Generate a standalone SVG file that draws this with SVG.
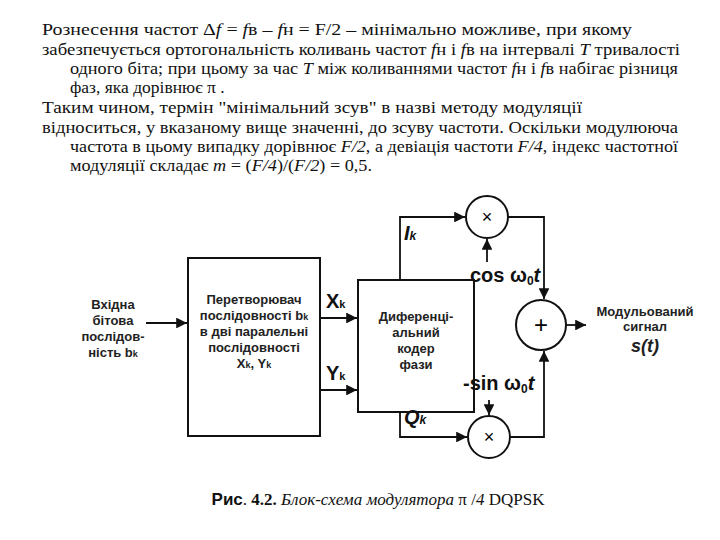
<svg xmlns="http://www.w3.org/2000/svg" width="720" height="540" viewBox="0 0 720 540">
<defs>
<marker id="ar" viewBox="0 0 10 10" refX="10" refY="5" markerWidth="6" markerHeight="6" orient="auto"><path d="M0,0L10,5L0,10z" fill="#111"/></marker>
<style>
.s{font-family:'Liberation Sans',sans-serif;font-size:13px;font-weight:bold;fill:#222}
.l{font-family:'Liberation Sans',sans-serif;font-size:20px;font-weight:bold;fill:#111}
.b{fill:none;stroke:#111;stroke-width:2}
.c{fill:none;stroke:#111;stroke-width:1.8;marker-end:url(#ar)}
</style>
</defs>
<rect width="720" height="540" fill="#fff"/>
<g font-family="Liberation Serif, DejaVu Serif, serif" font-size="17.5" fill="#111">
<text x="42" y="35" textLength="590" lengthAdjust="spacingAndGlyphs">Рознесення частот Δ<tspan font-style="italic">f</tspan> = <tspan font-style="italic">f</tspan>в – <tspan font-style="italic">f</tspan>н = F/2 – мінімально можливе, при якому</text>
<text x="42" y="55" textLength="638" lengthAdjust="spacingAndGlyphs">забезпечується ортогональність коливань частот <tspan font-style="italic">f</tspan>н і <tspan font-style="italic">f</tspan>в на інтервалі <tspan font-style="italic">T</tspan> тривалості</text>
<text x="70" y="74" textLength="608" lengthAdjust="spacingAndGlyphs">одного біта; при цьому за час <tspan font-style="italic">T</tspan> між коливаннями частот <tspan font-style="italic">f</tspan>н і <tspan font-style="italic">f</tspan>в набігає різниця</text>
<text x="70" y="93">фаз, яка дорівнює π .</text>
<text x="42" y="113" textLength="540" lengthAdjust="spacingAndGlyphs">Таким чином, термін "мінімальний зсув" в назві методу модуляції</text>
<text x="42" y="133" textLength="636" lengthAdjust="spacingAndGlyphs">відноситься, у вказаному вище значенні, до зсуву частоти. Оскільки модулююча</text>
<text x="70" y="152" textLength="608" lengthAdjust="spacingAndGlyphs">частота в цьому випадку дорівнює <tspan font-style="italic">F/2</tspan>, а девіація частоти <tspan font-style="italic">F/4</tspan>, індекс частотної</text>
<text x="70" y="171" textLength="302" lengthAdjust="spacingAndGlyphs">модуляції складає <tspan font-style="italic">m</tspan> = (<tspan font-style="italic">F/4</tspan>)/(<tspan font-style="italic">F/2</tspan>) = 0,5.</text>
</g>
<g id="input" class="s" text-anchor="middle">
<text x="113" y="309">Вхідна</text><text x="113" y="325">бітова</text><text x="113" y="341">послідов-</text><text x="113" y="357">ність b<tspan font-size="9">k</tspan></text>
</g>
<g id="conv">
<rect x="188" y="258" width="132" height="178" class="b"/>
<g class="s" text-anchor="middle"><text x="254" y="304">Перетворювач</text><text x="254" y="320">послідовності b<tspan font-size="9">k</tspan></text><text x="254" y="336">в дві паралельні</text><text x="254" y="352">послідовності</text><text x="254" y="368">X<tspan font-size="9">k</tspan>, Y<tspan font-size="9">k</tspan></text></g>
</g>
<g id="coder">
<rect x="358" y="280" width="116" height="132" class="b"/>
<g class="s" text-anchor="middle"><text x="416" y="321">Диференці-</text><text x="416" y="337">альний</text><text x="416" y="353">кодер</text><text x="416" y="369">фази</text></g>
</g>
<g id="mul1"><circle cx="487" cy="217" r="21" class="b"/><text x="487" y="223" font-family="Liberation Sans, sans-serif" font-size="18" text-anchor="middle">×</text></g>
<g id="mul2"><circle cx="489" cy="437" r="21" class="b"/><text x="489" y="443" font-family="Liberation Sans, sans-serif" font-size="18" text-anchor="middle">×</text></g>
<g id="sum"><circle cx="541" cy="325" r="25" class="b"/><text x="541" y="333" font-family="Liberation Sans, sans-serif" font-size="24" text-anchor="middle">+</text></g>
<g id="output" class="s" text-anchor="middle"><text x="645" y="316">Модульований</text><text x="645" y="331">сигнал</text><text x="645" y="352" font-size="18" font-style="italic">s(t)</text></g>
<g id="connectors">
<path d="M146,323H187" class="c"/>
<path d="M320,318H357" class="c"/>
<path d="M320,390H357" class="c"/>
<path d="M400,280V217H465" class="c"/>
<path d="M400,412V437H467" class="c"/>
<path d="M487,262V239" class="c"/>
<path d="M489,400V415" class="c"/>
<path d="M508,217H544V299" class="c"/>
<path d="M510,437H544V351" class="c"/>
<path d="M566,325H586" class="c"/>
</g>
<g class="l">
<text x="326" y="308">X<tspan font-size="11">k</tspan></text>
<text x="326" y="380">Y<tspan font-size="11">k</tspan></text>
<text x="404" y="240" font-style="italic">I<tspan font-size="12">k</tspan></text>
<text x="404" y="424" font-style="italic">Q<tspan font-size="12">k</tspan></text>
<text x="470" y="282">cos ω<tspan font-size="12" dy="3">0</tspan><tspan dy="-3" font-style="italic">t</tspan></text>
<text x="463" y="390">-sin ω<tspan font-size="12" dy="3">0</tspan><tspan dy="-3" font-style="italic">t</tspan></text>
</g>
<text x="378" y="505" text-anchor="middle" font-family="Liberation Serif, DejaVu Serif, serif" font-size="17" fill="#111"><tspan font-family="Liberation Sans, sans-serif" font-weight="bold">Рис</tspan>. <tspan font-weight="bold">4.2.</tspan> <tspan font-style="italic">Блок-схема модулятора</tspan> π /<tspan font-style="italic">4</tspan> DQPSK</text>
</svg>
